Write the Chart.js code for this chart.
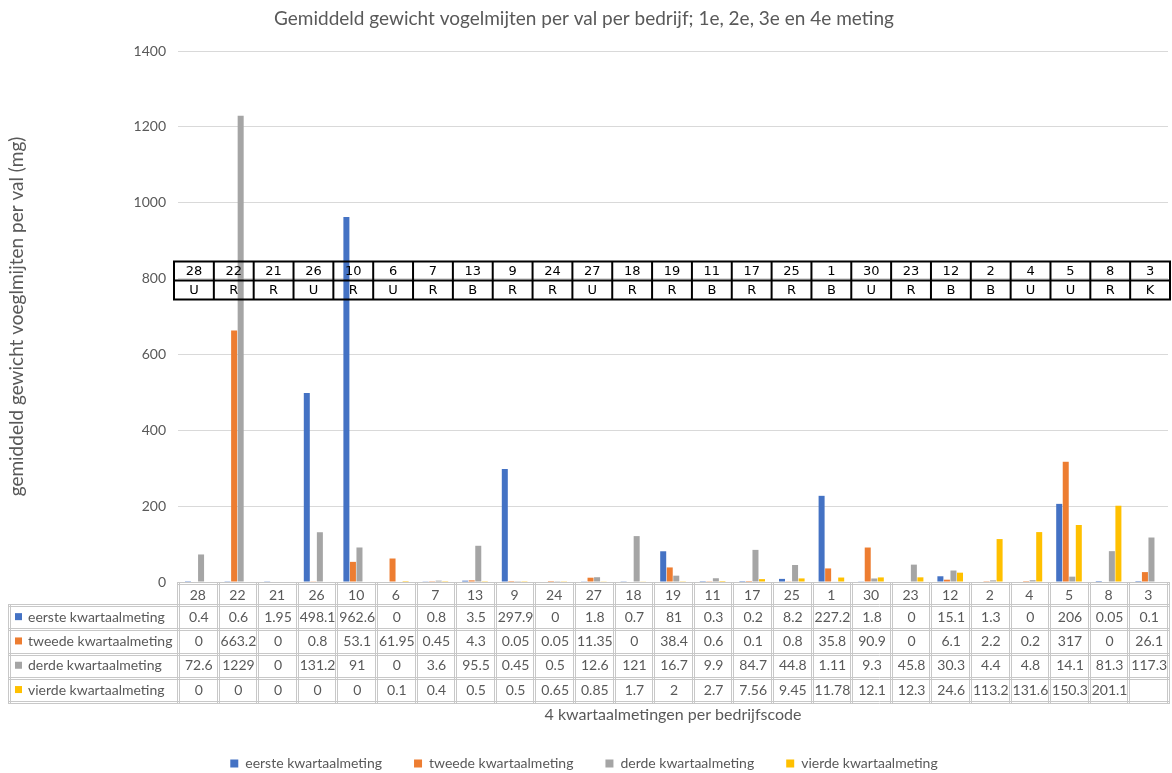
<!DOCTYPE html>
<html>
<head>
<meta charset="utf-8">
<script src="https://cdn.jsdelivr.net/npm/chart.js@4"></script>
<style>
  html, body { margin: 0; padding: 0; background: #fff; }
  #wrap { width: 1172px; height: 773px; }
</style>
</head>
<body>
<div id="wrap"><canvas id="chart"></canvas></div>
<script>
const bedrijven = ['28', '22', '21', '26', '10', '6', '7', '13', '9', '24', '27', '18', '19', '11', '17', '25', '1', '30', '23', '12', '2', '4', '5', '8', '3'];
const typen = ['U', 'R', 'R', 'U', 'R', 'U', 'R', 'B', 'R', 'R', 'U', 'R', 'R', 'B', 'R', 'R', 'B', 'U', 'R', 'B', 'B', 'U', 'U', 'R', 'K'];

const eerste = [0.4, 0.6, 1.95, 498.1, 962.6, 0, 0.8, 3.5, 297.9, 0, 1.8, 0.7, 81, 0.3, 0.2, 8.2, 227.2, 1.8, 0, 15.1, 1.3, 0, 206, 0.05, 0.1];
const tweede = [0, 663.2, 0, 0.8, 53.1, 61.95, 0.45, 4.3, 0.05, 0.05, 11.35, 0, 38.4, 0.6, 0.1, 0.8, 35.8, 90.9, 0, 6.1, 2.2, 0.2, 317, 0, 26.1];
const derde = [72.6, 1229, 0, 131.2, 91, 0, 3.6, 95.5, 0.45, 0.5, 12.6, 121, 16.7, 9.9, 84.7, 44.8, 1.11, 9.3, 45.8, 30.3, 4.4, 4.8, 14.1, 81.3, 117.3];
const vierde = [0, 0, 0, 0, 0, 0.1, 0.4, 0.5, 0.5, 0.65, 0.85, 1.7, 2, 2.7, 7.56, 9.45, 11.78, 12.1, 12.3, 24.6, 113.2, 131.6, 150.3, 201.1, null];

const reeksNamen = ['eerste kwartaalmeting', 'tweede kwartaalmeting', 'derde kwartaalmeting', 'vierde kwartaalmeting'];
const reeksen = [eerste, tweede, derde, vierde];
const kleuren = ['#4472C4', '#ED7D31', '#A5A5A5', '#FFC000'];

const FONT = 'Lato, "Liberation Sans", sans-serif';
const GRIJS = '#595959';

function lijn(ctx, x1, y1, x2, y2) {
  ctx.beginPath();
  ctx.moveTo(x1, y1);
  ctx.lineTo(x2, y2);
  ctx.stroke();
}

// dubbele grijze lijn zoals in de Excel-gegevenstabel
function dubbel(ctx, x1, y1, x2, y2) {
  const hor = y1 === y2;
  lijn(ctx, x1, y1, x2, y2);
  if (hor) lijn(ctx, x1, y1 + 2, x2, y2 + 2);
  else lijn(ctx, x1 + 2, y1, x2 + 2, y2);
}

const tabellen = {
  id: 'tabellen',
  // tabel met bedrijfscodes en type over de grafiek heen
  afterDatasetsDraw(chart) {
    const { ctx, chartArea: a, scales: { y } } = chart;
    const w = (a.right - a.left + 6) / bedrijven.length;
    const left = a.left - 4;
    const right = left + w * bedrijven.length;
    const yTop = y.getPixelForValue(845), yMid = y.getPixelForValue(795), yBot = y.getPixelForValue(745);
    ctx.save();
    ctx.strokeStyle = '#000';
    ctx.lineWidth = 2;
    [yTop, yMid, yBot].forEach(yy => lijn(ctx, left - 1, yy, right + 1, yy));
    for (let i = 0; i <= bedrijven.length; i++) lijn(ctx, left + i * w, yTop, left + i * w, yBot);
    ctx.fillStyle = '#000';
    ctx.font = '13px "DejaVu Sans", sans-serif';
    ctx.textAlign = 'center';
    ctx.textBaseline = 'middle';
    bedrijven.forEach((b, i) => {
      const cx = left + (i + 0.5) * w;
      ctx.fillText(b, cx, (yTop + yMid) / 2 + 1);
      ctx.fillText(typen[i], cx, (yMid + yBot) / 2 + 1);
    });
    ctx.restore();
  },
  // gegevenstabel onder de grafiek
  afterDraw(chart) {
    const { ctx, chartArea: a, scales: { x } } = chart;
    const w = (a.right - a.left) / bedrijven.length;
    const y0 = a.bottom;
    const rijen = [y0 + 22];
    for (let r = 0; r < 4; r++) rijen.push(rijen[r] + 24.3);
    const links = 8;
    ctx.save();
    ctx.lineWidth = 1;
    ctx.strokeStyle = '#C8C8C8';
    dubbel(ctx, a.left, y0 + 0.5, a.right + 2, y0 + 0.5);
    rijen.forEach(ry => dubbel(ctx, links, Math.round(ry) + 0.5, a.right + 2, Math.round(ry) + 0.5));
    for (let i = 0; i <= bedrijven.length; i++) {
      const vx = Math.round(a.left + i * w) - 0.5;
      dubbel(ctx, vx, y0, vx, Math.round(rijen[4]) + 2.5);
    }
    dubbel(ctx, links + 0.5, Math.round(rijen[0]), links + 0.5, Math.round(rijen[4]) + 2.5);

    ctx.fillStyle = GRIJS;
    ctx.font = '14px ' + FONT;
    ctx.textBaseline = 'middle';
    ctx.textAlign = 'center';
    bedrijven.forEach((b, i) => ctx.fillText(b, x.getPixelForValue(i), (y0 + rijen[0]) / 2 + 2));
    reeksen.forEach((reeks, r) => {
      const cy = (rijen[r] + rijen[r + 1]) / 2 + 1;
      reeks.forEach((v, i) => {
        if (v === null) return;
        ctx.fillText(String(v), x.getPixelForValue(i) + 1, cy);
      });
    });
    ctx.textAlign = 'left';
    reeksNamen.forEach((naam, r) => {
      const cy = (rijen[r] + rijen[r + 1]) / 2 + 1;
      ctx.fillStyle = kleuren[r];
      ctx.fillRect(15, cy - 4, 7, 7);
      ctx.fillStyle = GRIJS;
      ctx.fillText(naam, 28, cy);
    });
    ctx.restore();
  }
};

new Chart(document.getElementById('chart'), {
  type: 'bar',
  data: {
    labels: bedrijven,
    datasets: reeksen.map((reeks, r) => ({
      label: reeksNamen[r],
      data: reeks,
      backgroundColor: kleuren[r],
      borderWidth: 0,
      barPercentage: 0.92,
      categoryPercentage: 0.66
    }))
  },
  options: {
    responsive: true,
    maintainAspectRatio: false,
    animation: false,
    layout: { padding: { left: 0, right: 4, top: 0, bottom: -7.5 } },
    plugins: {
      title: {
        display: true,
        text: 'Gemiddeld gewicht vogelmijten per val per bedrijf; 1e, 2e, 3e en 4e meting',
        color: GRIJS,
        font: { family: FONT, size: 19, weight: 'normal' },
        padding: { top: 7, bottom: 21.2 }
      },
      legend: {
        position: 'bottom',
        labels: {
          color: GRIJS,
          font: { family: FONT, size: 14 },
          boxWidth: 8,
          boxHeight: 8,
          padding: 32
        }
      },
      tooltip: { enabled: false }
    },
    scales: {
      x: {
        grid: { display: false, drawTicks: false },
        border: { display: false },
        ticks: { display: false },
        title: {
          display: true,
          text: '4 kwartaalmetingen per bedrijfscode',
          color: GRIJS,
          font: { family: FONT, size: 16 },
          padding: { top: 0, bottom: 0 }
        },
        afterFit(s) { s.height = 142.5; }
      },
      y: {
        min: 0,
        max: 1400,
        ticks: {
          stepSize: 200,
          color: GRIJS,
          font: { family: FONT, size: 14 },
          padding: 12,
          callback: v => String(v)
        },
        grid: { color: '#D9D9D9', drawTicks: false },
        border: { display: false },
        title: {
          display: true,
          text: 'gemiddeld gewicht voeglmijten per val (mg)',
          color: GRIJS,
          font: { family: FONT, size: 19 },
          padding: { top: 5, bottom: 0 }
        },
        afterFit(s) { s.width = 178; }
      }
    }
  },
  plugins: [tabellen]
});
</script>
</body>
</html>
